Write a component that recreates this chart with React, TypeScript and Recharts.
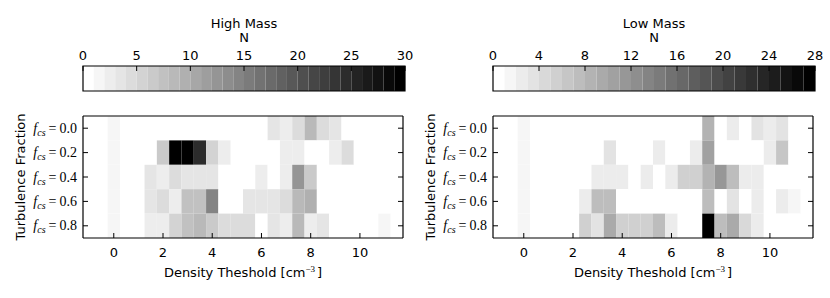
import React from 'react';
import { ScatterChart, Scatter, XAxis, YAxis, ReferenceArea } from 'recharts';

// ---------- data ----------
const densityValues = [-1, -0.5, 0, 0.5, 1, 1.5, 2, 2.5, 3, 3.5, 4, 4.5, 5, 5.5, 6, 6.5, 7, 7.5, 8, 8.5, 9, 9.5, 10, 10.5, 11, 11.5];
const fractionValues = [0.0, 0.2, 0.4, 0.6, 0.8];
const densityTicks = [0, 2, 4, 6, 8, 10];

// counts per row (f_cs = 0.0 ... 0.8), one value per density bin
const highMassCounts = [
  [0, 0, 1, 0, 0, 0, 0, 0, 0, 0, 0, 0, 0, 0, 0, 3, 2, 4, 8, 4, 3, 0, 0, 0, 0, 0],
  [0, 0, 1, 0, 0, 0, 6, 30, 30, 24, 5, 2, 0, 0, 0, 0, 2, 2, 0, 0, 2, 4, 0, 0, 0, 0],
  [0, 0, 1, 0, 0, 3, 2, 4, 3, 3, 3, 0, 0, 0, 2, 0, 2, 12, 6, 0, 0, 0, 0, 0, 0, 0],
  [0, 0, 1, 0, 0, 3, 4, 2, 7, 7, 14, 0, 0, 3, 3, 3, 4, 8, 9, 0, 0, 0, 0, 0, 0, 0],
  [0, 0, 1, 0, 0, 2, 2, 5, 7, 8, 6, 4, 4, 4, 0, 3, 2, 8, 2, 3, 0, 0, 0, 0, 1, 0],
];
const lowMassCounts = [
  [0, 0, 1, 0, 0, 0, 0, 0, 0, 0, 0, 0, 0, 0, 0, 0, 0, 8, 0, 2, 0, 3, 2, 3, 0, 0],
  [0, 0, 1, 0, 0, 0, 0, 0, 0, 3, 0, 0, 0, 2, 0, 0, 2, 10, 0, 0, 0, 0, 2, 6, 0, 0],
  [0, 0, 1, 0, 0, 0, 0, 0, 2, 2, 2, 0, 2, 0, 2, 5, 5, 8, 11, 7, 2, 2, 0, 0, 0, 0],
  [0, 0, 1, 0, 0, 0, 0, 2, 7, 7, 0, 0, 0, 0, 0, 0, 0, 7, 0, 3, 0, 2, 0, 2, 1, 0],
  [0, 0, 1, 0, 0, 0, 0, 5, 3, 9, 5, 5, 5, 7, 2, 0, 0, 28, 7, 9, 4, 2, 0, 0, 0, 0],
];

const highMassMax = 30;
const lowMassMax = 28;
const highMassBarTicks = [0, 5, 10, 15, 20, 25, 30];
const lowMassBarTicks = [0, 4, 8, 12, 16, 20, 24, 28];

// ---------- style ----------
const SANS = '"DejaVu Sans", sans-serif';
const SERIF = '"Liberation Serif", "DejaVu Serif", serif';
const TICK_LEN = 5;

function grayFor(count: number, levels: number) {
  const idx = Math.max(0, Math.min(levels - 1, Math.floor(count)));
  const v = Math.round(255 * (1 - idx / (levels - 1)));
  return `rgb(${v},${v},${v})`;
}

const BottomTick = (props: any) => {
  const { x, y, payload } = props;
  return (
    <g>
      <line x1={x} y1={y} x2={x} y2={y - TICK_LEN} stroke="#000" strokeWidth={1} />
      <text x={x} y={y + 19} textAnchor="middle" fontFamily={SANS} fontSize={13} fill="#000">
        {payload.value}
      </text>
    </g>
  );
};

const TopTick = (props: any) => {
  const { x, y } = props;
  return <line x1={x} y1={y} x2={x} y2={y + TICK_LEN} stroke="#000" strokeWidth={1} />;
};

const LeftTick = (props: any) => {
  const { x, y, payload } = props;
  return (
    <g>
      <line x1={x} y1={y} x2={x + TICK_LEN} y2={y} stroke="#000" strokeWidth={1} />
      <text x={x - 6} y={y + 4.5} textAnchor="end" fontFamily={SERIF} fontSize={14} fill="#000">
        <tspan fontStyle="italic">f</tspan>
        <tspan fontStyle="italic" fontSize={10} dy={3}>cs</tspan>
        <tspan dy={-3} dx={3}>=</tspan>
        <tspan dx={3}>{Number(payload.value).toFixed(1)}</tspan>
      </text>
    </g>
  );
};

const RightTick = (props: any) => {
  const { x, y } = props;
  return <line x1={x} y1={y} x2={x - TICK_LEN} y2={y} stroke="#000" strokeWidth={1} />;
};

const BarTick = (props: any) => {
  const { x, y, payload } = props;
  return (
    <g>
      <line x1={x} y1={y} x2={x} y2={y + TICK_LEN} stroke="#000" strokeWidth={1} />
      <text x={x} y={y - 6} textAnchor="middle" fontFamily={SANS} fontSize={13} fill="#000">
        {payload.value}
      </text>
    </g>
  );
};

function Heatmap({ counts, levels }: { counts: number[][]; levels: number }) {
  const cells: { x: number; y: number; c: number }[] = [];
  counts.forEach((row, r) =>
    row.forEach((c, i) => cells.push({ x: densityValues[i], y: fractionValues[r], c }))
  );
  const axisLine = { stroke: '#000', strokeWidth: 1.2 };
  return (
    <ScatterChart width={415} height={298} margin={{ top: 115, right: 11, bottom: 0, left: 0 }}>
      {cells.map((d, k) => (
        <ReferenceArea
          key={k}
          x1={d.x - 0.25}
          x2={d.x + 0.25}
          y1={d.y - 0.1}
          y2={d.y + 0.1}
          fill={grayFor(d.c, levels)}
          fillOpacity={1}
          stroke="none"
          ifOverflow="visible"
        />
      ))}
      <Scatter data={cells} dataKey="y" isAnimationActive={false} shape={() => <g />} legendType="none" />
      <XAxis
        type="number"
        dataKey="x"
        domain={[-1.25, 11.75]}
        allowDataOverflow
        ticks={densityTicks}
        interval={0}
        height={60}
        tickSize={0}
        tickMargin={0}
        tickLine={false}
        axisLine={axisLine}
        tick={(p: any) => <BottomTick {...p} />}
      />
      <XAxis
        xAxisId="top"
        orientation="top"
        type="number"
        domain={[-1.25, 11.75]}
        allowDataOverflow
        ticks={densityTicks}
        interval={0}
        height={1}
        tickSize={0}
        tickMargin={0}
        tickLine={false}
        axisLine={axisLine}
        tick={(p: any) => <TopTick {...p} />}
      />
      <YAxis
        type="number"
        dataKey="y"
        domain={[-0.1, 0.9]}
        reversed
        allowDataOverflow
        ticks={fractionValues}
        interval={0}
        width={83}
        tickSize={0}
        tickMargin={0}
        tickLine={false}
        axisLine={axisLine}
        tick={(p: any) => <LeftTick {...p} />}
      />
      <YAxis
        yAxisId="right"
        orientation="right"
        type="number"
        domain={[-0.1, 0.9]}
        reversed
        allowDataOverflow
        ticks={fractionValues}
        interval={0}
        width={1}
        tickSize={0}
        tickMargin={0}
        tickLine={false}
        axisLine={axisLine}
        tick={(p: any) => <RightTick {...p} />}
      />
    </ScatterChart>
  );
}

function Colorbar({ levels, ticks }: { levels: number; ticks: number[] }) {
  const bands = Array.from({ length: levels }, (_, k) => k);
  return (
    <ScatterChart width={415} height={100} margin={{ top: 65, right: 10, bottom: 9, left: 83 }}>
      {bands.map((k) => (
        <ReferenceArea
          key={k}
          x1={k}
          x2={k + 1}
          y1={0}
          y2={1}
          fill={grayFor(k, levels)}
          fillOpacity={1}
          stroke="none"
          ifOverflow="visible"
        />
      ))}
      <ReferenceArea x1={0} x2={levels} y1={0} y2={1} fill="none" stroke="#000" strokeWidth={1.2} ifOverflow="visible" />
      <Scatter data={[{ x: 0, y: 0 }]} dataKey="y" isAnimationActive={false} shape={() => <g />} legendType="none" />
      <XAxis
        orientation="top"
        type="number"
        dataKey="x"
        domain={[0, levels]}
        allowDataOverflow
        ticks={ticks}
        interval={0}
        height={1}
        tickSize={0}
        tickMargin={0}
        tickLine={false}
        axisLine={false}
        tick={(p: any) => <BarTick {...p} />}
      />
      <YAxis type="number" dataKey="y" domain={[0, 1]} hide width={0} />
    </ScatterChart>
  );
}

function Labels({ dx, title }: { dx: number; title: string }) {
  return (
    <g fontFamily={SANS} fontSize={13} fill="#000">
      <text x={244 + dx} y={27.5} textAnchor="middle">{title}</text>
      <text x={244 + dx} y={41.5} textAnchor="middle">N</text>
      <text x={243 + dx} y={277} textAnchor="middle">
        <tspan>Density Theshold [cm</tspan>
        <tspan dy={-5} fontSize={9} fontFamily={SERIF}>−3</tspan>
        <tspan dy={5} dx={2}>]</tspan>
      </text>
      <text transform={`translate(${25 + dx},177) rotate(-90)`} textAnchor="middle">
        Turbulence Fraction
      </text>
    </g>
  );
}

export default function App() {
  return (
    <div style={{ position: 'absolute', left: 0, top: 0, width: 830, height: 298, background: '#fff', overflow: 'hidden' }}>
      <div style={{ position: 'absolute', left: 0, top: 0 }}>
        <Colorbar levels={highMassMax} ticks={highMassBarTicks} />
      </div>
      <div style={{ position: 'absolute', left: 410, top: 0 }}>
        <Colorbar levels={lowMassMax} ticks={lowMassBarTicks} />
      </div>
      <div style={{ position: 'absolute', left: 0, top: 0 }}>
        <Heatmap counts={highMassCounts} levels={highMassMax} />
      </div>
      <div style={{ position: 'absolute', left: 410, top: 0 }}>
        <Heatmap counts={lowMassCounts} levels={lowMassMax} />
      </div>
      <svg width={830} height={298} style={{ position: 'absolute', left: 0, top: 0, pointerEvents: 'none' }}>
        <Labels dx={0} title="High Mass" />
        <Labels dx={410} title="Low Mass" />
      </svg>
    </div>
  );
}
